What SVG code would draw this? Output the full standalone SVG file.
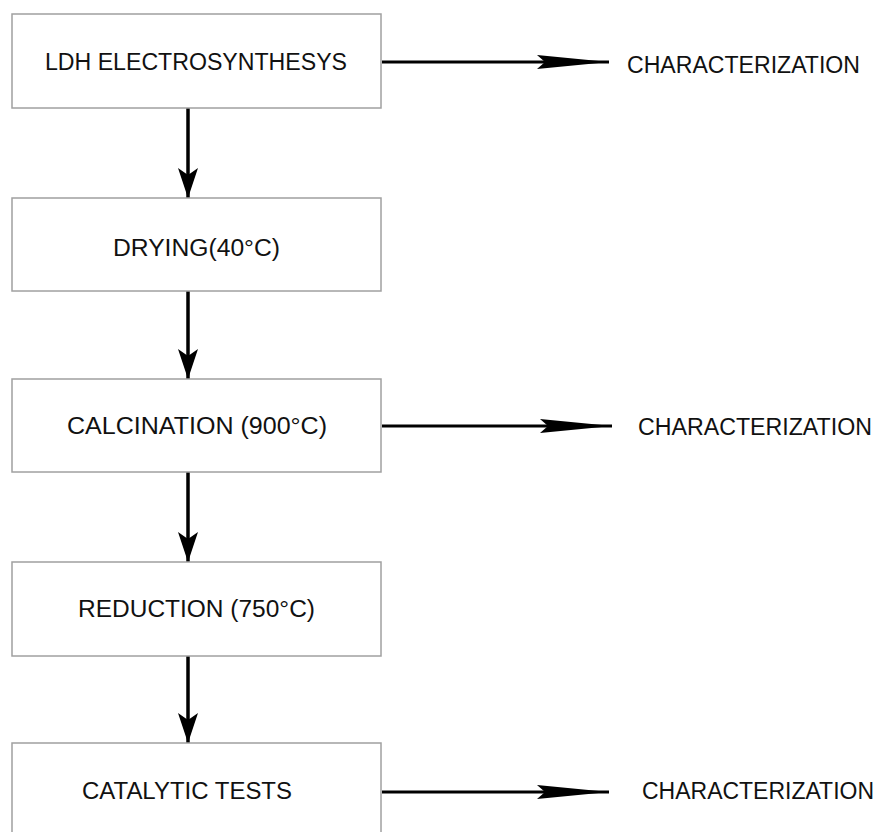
<svg xmlns="http://www.w3.org/2000/svg" width="879" height="832" viewBox="0 0 879 832">
<style>
.box{fill:#fff;stroke:#a0a0a0;stroke-width:1.5}
.lbl{font-family:"Liberation Sans",Arial,sans-serif;font-size:23px;fill:#111}
.mid{text-anchor:middle}
.v{stroke:#000;stroke-width:3.5;fill:none}
.h{stroke:#000;stroke-width:3;fill:none}
</style>
<defs>
<marker id="vhead" markerUnits="userSpaceOnUse" viewBox="0 0 30 20" refX="30" refY="10" markerWidth="30" markerHeight="20" orient="auto">
<path d="M0,0 L30,10 L0,20 L7,10 Z" fill="#000"/>
</marker>
<marker id="hhead" markerUnits="userSpaceOnUse" viewBox="0 0 72 14" refX="72" refY="7" markerWidth="72" markerHeight="14" orient="auto">
<path d="M0,0 L72,7 L0,14 L8,7 Z" fill="#000"/>
</marker>
</defs>
<rect width="879" height="832" fill="#fff"/>
<g id="connectors">
<line class="v" x1="188" y1="108" x2="188" y2="198" marker-end="url(#vhead)"/>
<line class="v" x1="188" y1="291" x2="188" y2="379" marker-end="url(#vhead)"/>
<line class="v" x1="188" y1="472" x2="188" y2="562" marker-end="url(#vhead)"/>
<line class="v" x1="188" y1="656" x2="188" y2="743" marker-end="url(#vhead)"/>
<line class="h" x1="382" y1="62" x2="609" y2="62" marker-end="url(#hhead)"/>
<line class="h" x1="382" y1="426" x2="612" y2="426" marker-end="url(#hhead)"/>
<line class="h" x1="382" y1="792" x2="609" y2="792" marker-end="url(#hhead)"/>
</g>
<g id="n-ldh">
<rect class="box" x="12" y="14" width="369" height="94"/>
<text class="lbl mid" x="196" y="70" textLength="302" lengthAdjust="spacingAndGlyphs">LDH ELECTROSYNTHESYS</text>
</g>
<g id="n-drying">
<rect class="box" x="12" y="198" width="369" height="93"/>
<text class="lbl mid" x="196.5" y="256" textLength="167" lengthAdjust="spacingAndGlyphs">DRYING(40°C)</text>
</g>
<g id="n-calcination">
<rect class="box" x="12" y="379" width="369" height="93"/>
<text class="lbl mid" x="197" y="434" textLength="260" lengthAdjust="spacingAndGlyphs">CALCINATION (900°C)</text>
</g>
<g id="n-reduction">
<rect class="box" x="12" y="562" width="369" height="94"/>
<text class="lbl mid" x="196.5" y="617" textLength="237" lengthAdjust="spacingAndGlyphs">REDUCTION (750°C)</text>
</g>
<g id="n-catalytic">
<rect class="box" x="12" y="743" width="369" height="94"/>
<text class="lbl mid" x="187" y="799" textLength="210" lengthAdjust="spacingAndGlyphs">CATALYTIC TESTS</text>
</g>
<g id="n-char1">
<text class="lbl" x="627" y="73" textLength="233" lengthAdjust="spacingAndGlyphs">CHARACTERIZATION</text>
</g>
<g id="n-char2">
<text class="lbl" x="638" y="435" textLength="234" lengthAdjust="spacingAndGlyphs">CHARACTERIZATION</text>
</g>
<g id="n-char3">
<text class="lbl" x="642" y="799" textLength="232" lengthAdjust="spacingAndGlyphs">CHARACTERIZATION</text>
</g>
</svg>
